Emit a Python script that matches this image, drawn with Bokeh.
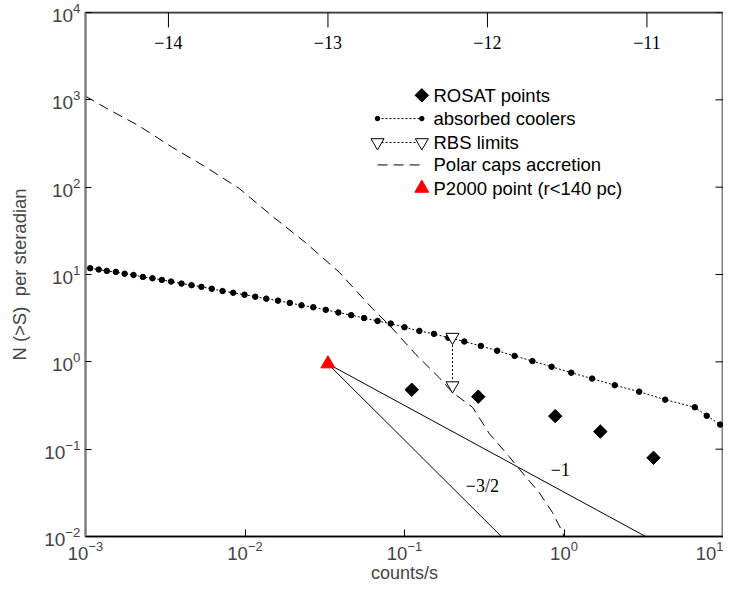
import numpy as np
from bokeh.plotting import figure
from bokeh.models import Range1d, LinearScale, FixedTicker, Span
from bokeh.core.properties import value
from bokeh.embed import file_html
from bokeh.resources import INLINE

# ---------------- data ----------------
cool_x = [1.07e-3, 1.21e-3, 1.36e-3, 1.55e-3, 1.76e-3, 2.00e-3, 2.29e-3, 2.63e-3, 3.01e-3, 3.44e-3,
          4.00e-3, 4.62e-3, 5.33e-3, 6.19e-3, 7.23e-3, 8.43e-3, 9.93e-3, 1.16e-2, 1.36e-2, 1.61e-2,
          1.91e-2, 2.26e-2, 2.68e-2, 3.21e-2, 3.85e-2, 4.63e-2, 5.58e-2, 6.78e-2, 8.20e-2, 0.100,
          0.124, 0.153, 0.188, 0.237, 0.301, 0.381, 0.490, 0.634, 0.836, 1.11,
          1.50, 2.08, 2.96, 4.31, 6.61, 7.85, 9.53]
cool_y = [11.8, 11.4, 11.0, 10.7, 10.2, 9.87, 9.37, 9.06, 8.67, 8.29,
          7.87, 7.55, 7.22, 6.86, 6.46, 6.18, 5.87, 5.57, 5.29, 5.02,
          4.73, 4.44, 4.22, 3.94, 3.67, 3.42, 3.17, 2.94, 2.74, 2.49,
          2.26, 2.09, 1.89, 1.71, 1.52, 1.34, 1.17, 1.02, 0.878, 0.751,
          0.643, 0.540, 0.455, 0.369, 0.302, 0.241, 0.191]

polar_x = [1.0e-3, 1.34e-3, 2.17e-3, 3.51e-3, 5.67e-3, 9.2e-3, 1.49e-2, 2.40e-2, 3.90e-2, 6.29e-2,
           8.02e-2, 0.118, 0.165, 0.200, 0.267, 0.340, 0.453, 0.550, 0.700, 0.847, 0.980, 1.0]
polar_y = [1100, 808, 502, 285, 170, 96.7, 46.2, 23.1, 10.6, 4.08,
           2.64, 1.21, 0.659, 0.446, 0.302, 0.151, 0.0823, 0.0533, 0.0317, 0.0188, 0.0112, 0.0100]

rosat_x = [0.111, 0.290, 0.881, 1.69, 3.64]
rosat_y = [0.479, 0.399, 0.239, 0.159, 0.0796]

rbs_x = [0.200, 0.200]
rbs_y = [1.92, 0.535]

p2000_x = [0.0331]
p2000_y = [0.949]

slope1_x = [0.0331, 3.25]
slope1_y = [0.949, 0.0100]
slope32_x = [0.0331, 0.405]
slope32_y = [0.949, 0.0100]

slope_labels = ["\u22121", "\u22123/2"]
slope_label_x = [0.95, 0.308]
slope_label_y = [0.0586, 0.0377]

flux_offset = -11.52
flux_ticks = [-14, -13, -12, -11]
flux_labels = ["\u221214", "\u221213", "\u221212", "\u221211"]

y_ticks = [1e-2, 1e-1, 1e0, 1e1, 1e2, 1e3, 1e4]
x_ticks = [1e-3, 1e-2, 1e-1, 1e0, 1e1]

legend_labels = ["ROSAT points", "absorbed coolers", "RBS limits",
                 "Polar caps accretion", "P2000 point (r<140 pc)"]

SANS = "Liberation Sans"
SERIF = "Liberation Serif"

# ---------------- figure ----------------
W, H = 723, 585
ML, MR, MT, MB = 85, 0, 12, 46
p = figure(width=W, height=H, x_axis_type="log", y_axis_type="log",
           x_range=Range1d(1e-3, 10), y_range=Range1d(1e-2, 1e4),
           output_backend="svg", toolbar_location=None,
           min_border_left=ML, min_border_right=MR, min_border_top=MT, min_border_bottom=MB)
p.grid.visible = False
p.outline_line_color = "#808080"
p.outline_line_width = 2
p.background_fill_color = "white"
p.border_fill_color = "white"

fw, fh = W - ML - MR, H - MT - MB
p.extra_x_ranges = {"flux": Range1d(-3 + flux_offset, 1 + flux_offset), "px": Range1d(0, fw)}
p.extra_y_ranges = {"px": Range1d(fh, 0)}
p.extra_x_scales = {"flux": LinearScale(), "px": LinearScale()}
p.extra_y_scales = {"px": LinearScale()}

# bottom axis
xa = p.xaxis[0]
xa.ticker = FixedTicker(ticks=x_ticks)
xa.axis_label = "counts/s"
xa.axis_label_text_font = SANS
xa.axis_label_text_font_style = "normal"
xa.axis_label_text_font_size = "18px"
xa.axis_label_standoff = 0
xa.major_label_text_font = SANS
xa.major_label_text_font_size = "18.5px"
xa.major_label_standoff = 4
xa.major_tick_in = 7
xa.major_tick_out = 0
xa.minor_tick_line_color = None
xa.axis_line_color = "black"
xa.axis_line_width = 1.5
xa.major_tick_line_color = "black"

# left axis
ya = p.yaxis[0]
ya.ticker = FixedTicker(ticks=y_ticks)
ya.axis_label = "N (>S)\u00a0 per steradian"
ya.axis_label_text_font = SANS
ya.axis_label_text_font_style = "normal"
ya.axis_label_text_font_size = "18.5px"
ya.axis_label_standoff = 11
ya.major_label_text_font = SANS
ya.major_label_text_font_size = "19px"
ya.major_label_standoff = 5
ya.major_tick_in = 6
ya.major_tick_out = 0
ya.minor_tick_line_color = None
ya.axis_line_color = "#808080"
ya.axis_line_width = 2
ya.major_tick_line_color = "black"

# top frame line (black)
p.add_layout(Span(location=1e4, dimension="width", line_color="black", line_width=1.5))

# right-side ticks (inward)
p.segment(x0=[fw - 8] * len(y_ticks), x1=[fw] * len(y_ticks), y0=y_ticks, y1=y_ticks,
          x_range_name="px", line_color="black", line_width=1)

# top axis ticks (log flux) and labels, inside the frame
p.segment(x0=flux_ticks, x1=flux_ticks, y0=[0] * len(flux_ticks), y1=[15] * len(flux_ticks),
          x_range_name="flux", y_range_name="px", line_color="black", line_width=1)
p.text(x=flux_ticks, y=[30] * len(flux_ticks), text=flux_labels,
       x_range_name="flux", y_range_name="px",
       text_font=value(SERIF), text_font_size="18px", text_align="center",
       text_baseline="middle", text_color="black")

# ---------------- data glyphs ----------------
# polar caps accretion
p.line(polar_x, polar_y, line_color="black", line_width=1, line_dash="10 6")

# absorbed coolers
p.line(cool_x, cool_y, line_color="black", line_width=1, line_dash="2 2")
p.scatter(cool_x, cool_y, marker="circle", size=5.5, fill_color="black", line_color="black")

# slope lines
p.line(slope1_x, slope1_y, line_color="black", line_width=1)
p.line(slope32_x, slope32_y, line_color="black", line_width=1)
p.text(x=slope_label_x, y=slope_label_y, text=slope_labels,
       text_font=value(SERIF), text_font_size="18px", text_align="center",
       text_baseline="middle", text_color="black")

# RBS limits
p.line(rbs_x, rbs_y, line_color="black", line_width=1, line_dash="2 2")
p.scatter(rbs_x, rbs_y, marker="inverted_triangle", size=13, fill_color="white",
          line_color="black", line_width=1)

# ROSAT points
p.scatter(rosat_x, rosat_y, marker="square", angle=np.pi / 4, size=9.5,
          fill_color="black", line_color="black")

# P2000 point
p.scatter(p2000_x, p2000_y, marker="triangle", size=14, fill_color="red", line_color="red")

# ---------------- legend (drawn in frame-pixel space) ----------------
row_y = [83.3, 106.7, 130.7, 153.3, 176.7]
gx0, gx1, tx = 292, 336.3, 348
kw = dict(x_range_name="px", y_range_name="px")
p.scatter([gx1], [row_y[0]], marker="square", angle=np.pi / 4, size=9.5,
          fill_color="black", line_color="black", **kw)
p.line([gx0, gx1], [row_y[1]] * 2, line_color="black", line_width=1, line_dash="2 2", **kw)
p.scatter([gx0, gx1], [row_y[1]] * 2, marker="circle", size=4.5,
          fill_color="black", line_color="black", **kw)
p.line([gx0, gx1], [row_y[2]] * 2, line_color="black", line_width=1, line_dash="2 2", **kw)
p.scatter([gx0, gx1], [row_y[2]] * 2, marker="inverted_triangle", size=13,
          fill_color="white", line_color="black", **kw)
p.line([gx0, gx1], [row_y[3]] * 2, line_color="black", line_width=1, line_dash="10 6", **kw)
p.scatter([gx1], [row_y[4]], marker="triangle", size=14,
          fill_color="red", line_color="red", **kw)
p.text(x=[tx] * len(legend_labels), y=row_y, text=legend_labels,
       text_font=value(SANS), text_font_size="18.5px", text_align="left",
       text_baseline="middle", text_color="black", **kw)

open("out.html", "w").write(file_html(p, INLINE))
